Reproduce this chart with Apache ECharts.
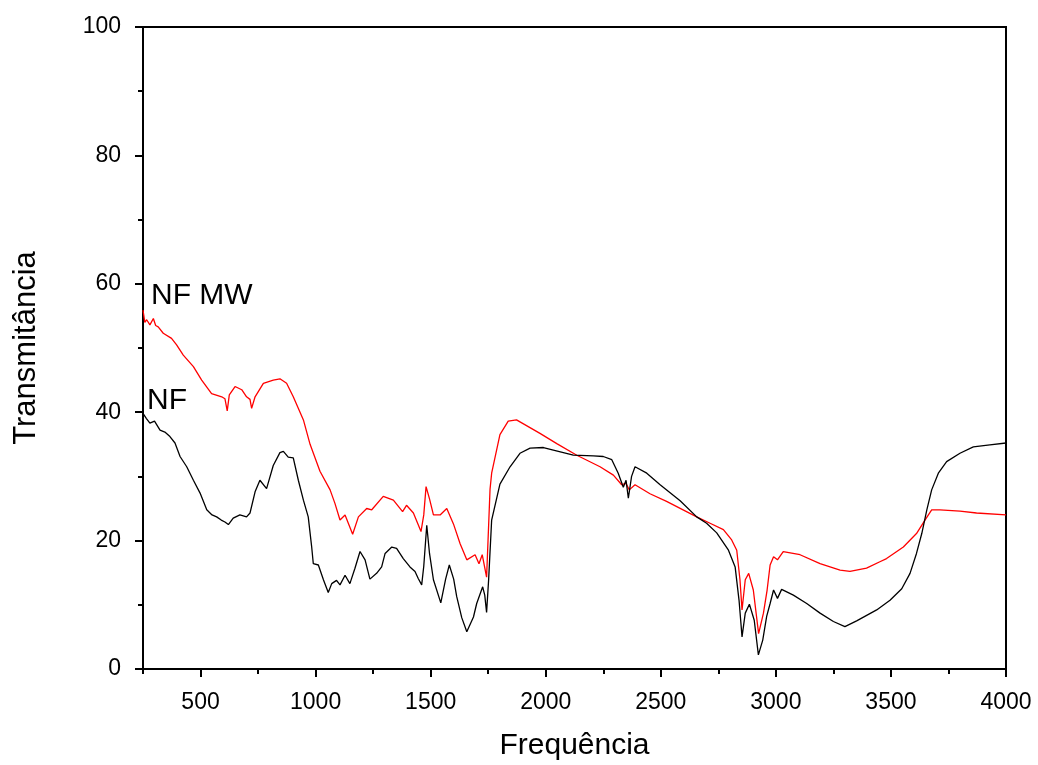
<!DOCTYPE html>
<html><head><meta charset="utf-8">
<script src="https://cdn.jsdelivr.net/npm/echarts@6/dist/echarts.min.js"></script>
<style>html,body{margin:0;padding:0;background:#fff}#c{width:1038px;height:765px}</style>
</head><body><div id="c"></div>
<script>
const nfFreq = [250,265,280,300,324,345,367,389,411,440,469,498,527,550,570,590,606,621,642,671,700,715,737,758,787,816,845,860,881,903,925,947,968,983,990,1012,1034,1055,1070,1091,1106,1128,1149,1171,1193,1215,1236,1265,1287,1302,1331,1352,1381,1410,1432,1446,1461,1470,1483,1495,1512,1544,1565,1581,1600,1613,1635,1657,1686,1700,1707,1726,1735,1743,1752,1765,1801,1845,1888,1932,1990,2033,2120,2207,2250,2287,2315,2337,2349,2359,2373,2388,2439,2497,2584,2656,2699,2743,2794,2823,2840,2853,2867,2885,2906,2924,2943,2960,2975,2990,3007,3025,3076,3134,3192,3250,3300,3351,3438,3496,3547,3583,3611,3634,3656,3677,3706,3742,3800,3858,3930,4000];
const nfValues = [39.8,39.0,38.3,38.6,37.2,36.9,36.2,35.2,33.1,31.5,29.4,27.4,24.8,24.0,23.7,23.2,22.9,22.5,23.5,24.0,23.7,24.3,27.6,29.4,28.1,31.7,33.7,33.9,33.0,32.9,29.4,26.3,23.7,19.0,16.4,16.2,13.9,11.9,13.3,13.8,13.1,14.6,13.3,15.7,18.3,17.0,14.0,14.9,15.9,18.0,19.0,18.8,17.2,15.9,15.2,14.1,13.1,16.0,22.4,18.0,13.9,10.3,14.0,16.2,14.0,11.3,8.0,5.8,8.1,10.2,10.0,12.8,11.5,8.8,14.0,23.2,28.8,31.5,33.6,34.4,34.5,34.1,33.3,33.2,33.1,32.6,30.5,28.3,29.4,26.6,30.0,31.5,30.5,28.7,26.2,23.7,22.7,21.2,18.5,15.9,10.7,5.0,8.7,10.1,7.6,2.2,4.5,8.2,10.2,12.3,11.0,12.4,11.5,10.2,8.7,7.4,6.6,7.5,9.2,10.7,12.5,14.9,18.0,21.1,24.8,27.9,30.5,32.3,33.6,34.6,34.9,35.2];

const mwFreq = [250,258,266,280,295,305,316,338,374,396,425,469,505,548,592,606,616,625,650,679,700,715,722,737,773,816,845,874,903,947,976,1019,1063,1084,1106,1128,1161,1186,1222,1244,1294,1338,1378,1395,1425,1458,1470,1480,1495,1512,1541,1570,1599,1628,1657,1693,1710,1724,1743,1758,1765,1801,1837,1873,1975,2048,2135,2236,2294,2330,2349,2363,2388,2453,2525,2656,2714,2772,2808,2830,2844,2853,2867,2882,2902,2925,2946,2962,2975,2990,3007,3032,3105,3192,3279,3322,3394,3452,3481,3554,3611,3648,3677,3713,3800,3872,4000];
const mwValues = [55.9,54.0,54.4,53.6,54.6,53.5,53.3,52.3,51.5,50.5,48.9,47.1,45.0,42.9,42.4,42.1,40.2,42.7,44.0,43.5,42.4,42.0,40.6,42.4,44.5,45.0,45.2,44.5,42.4,38.8,35.0,30.8,27.9,25.8,23.2,24.0,21.0,23.7,25.0,24.8,26.9,26.3,24.5,25.5,24.3,21.4,24.0,28.4,26.5,24.0,24.0,25.0,22.6,19.5,17.0,17.8,16.4,17.8,14.3,28.0,30.5,36.5,38.6,38.8,36.7,35.1,33.3,31.5,30.2,28.7,28.9,27.9,28.7,27.3,26.1,23.7,22.7,21.7,20.1,18.5,13.9,9.2,13.9,14.9,12.3,5.5,8.7,12.3,16.2,17.5,17.0,18.3,17.8,16.4,15.4,15.2,15.7,16.7,17.2,19.0,21.1,23.2,24.8,24.8,24.6,24.3,24.0];

const xMajorTicks = [500,1000,1500,2000,2500,3000,3500,4000];
const xMinorTicks = [250,750,1250,1750,2250,2750,3250,3750];
const seriesNames = ['NF','NF MW'];
const xTitle = 'Frequência';
const yTitle = 'Transmitância';

const pair = (xs, ys) => xs.map((x, i) => [x, ys[i]]);
const font = 'Liberation Sans, Arial, sans-serif';
const chart = echarts.init(document.getElementById('c'), null, {renderer: 'canvas'});
chart.setOption({
  animation: false,
  backgroundColor: '#fff',
  grid: {left: 143, right: 32, top: 27, bottom: 96, outerBoundsMode: 'none', containLabel: false,
         show: true, borderColor: '#000', borderWidth: 2, backgroundColor: 'transparent'},
  xAxis: [{
    type: 'value', min: 250, max: 4000, interval: 250,
    name: xTitle, nameLocation: 'middle', nameGap: 62,
    nameTextStyle: {fontFamily: font, fontSize: 30, color: '#000'},
    axisLine: {show: true, onZero: false, lineStyle: {color: '#000', width: 2}},
    axisTick: {show: true, inside: false, length: 8, lineStyle: {color: '#000', width: 2}, customValues: xMajorTicks},
    axisLabel: {color: '#000', fontFamily: font, fontSize: 23, margin: 22, customValues: xMajorTicks,
                formatter: v => String(v)},
    splitLine: {show: false}
  }, {
    type: 'value', min: 250, max: 4000, interval: 250, position: 'bottom',
    axisLine: {show: false},
    axisTick: {show: true, length: 5, lineStyle: {color: '#000', width: 2}, customValues: xMinorTicks},
    axisLabel: {show: false},
    splitLine: {show: false}
  }],
  yAxis: {
    type: 'value', min: 0, max: 100, interval: 20,
    name: yTitle, nameLocation: 'middle', nameGap: 101,
    nameTextStyle: {fontFamily: font, fontSize: 31, color: '#000'},
    axisLine: {show: true, onZero: false, lineStyle: {color: '#000', width: 2}},
    axisTick: {show: true, length: 8, lineStyle: {color: '#000', width: 2}},
    minorTick: {show: true, splitNumber: 2, length: 5, lineStyle: {color: '#000', width: 2}},
    axisLabel: {color: '#000', fontFamily: font, fontSize: 23, margin: 22, formatter: v => String(v)},
    splitLine: {show: false}
  },
  series: [
    {name: seriesNames[0], type: 'line', data: pair(nfFreq, nfValues), showSymbol: false, symbol: 'none',
     lineStyle: {color: '#000', width: 1.3}, z: 3},
    {name: seriesNames[1], type: 'line', data: pair(mwFreq, mwValues), showSymbol: false, symbol: 'none',
     lineStyle: {color: '#ff0000', width: 1.3}, z: 2}
  ],
  graphic: [
    {type: 'text', left: 151, top: 281, style: {text: seriesNames[1], fontFamily: font, fontSize: 30, fill: '#000'}},
    {type: 'text', left: 147, top: 386, style: {text: seriesNames[0], fontFamily: font, fontSize: 30, fill: '#000'}}
  ]
});
</script></body></html>
